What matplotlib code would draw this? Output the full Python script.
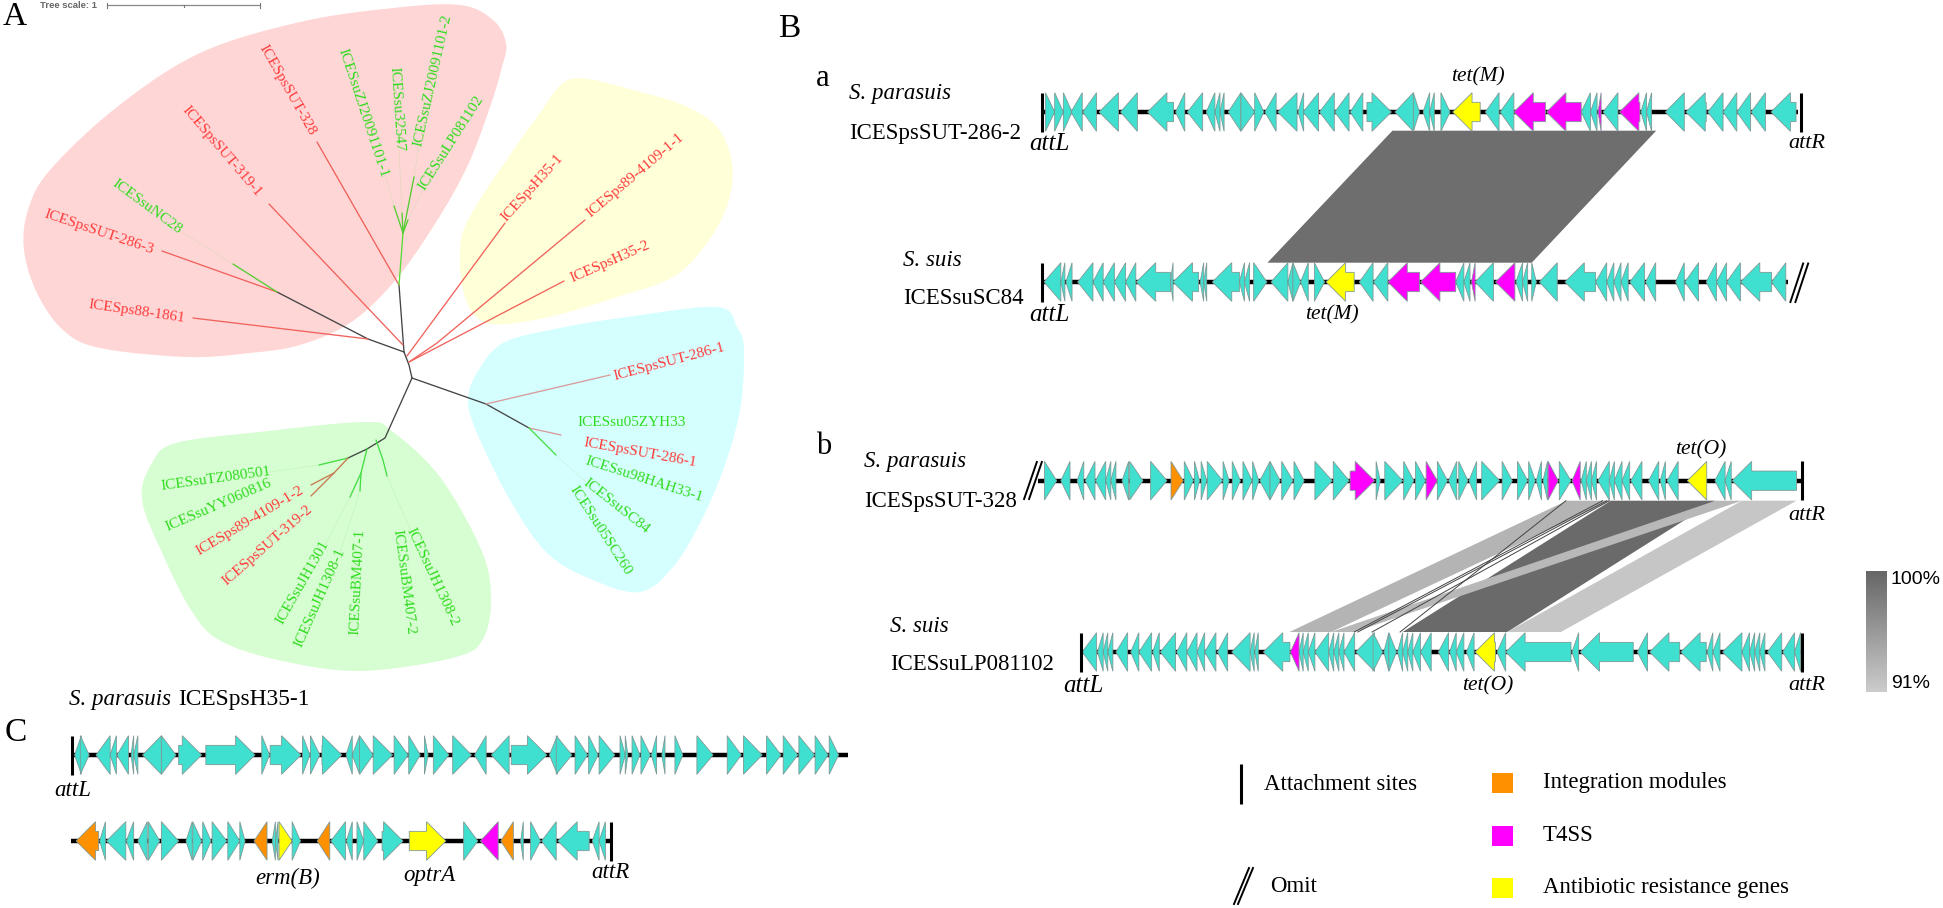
import numpy as np
import matplotlib
matplotlib.use("Agg")
import matplotlib.pyplot as plt
from matplotlib.patches import Polygon, Rectangle

W, H = 1943, 908
SERIF = "Liberation Serif"
SANS = "Liberation Sans"

TEAL = "#40e0d0"
MAG = "#ff00ff"
YEL = "#ffff00"
ORA = "#ff9000"
RED_TXT = "#ff3b3b"
GRN_TXT = "#2fdc1e"

# ---- panel B/C gene maps : (start, end, direction, colour key)
GENE_COL = {"t": TEAL, "m": MAG, "y": YEL, "o": ORA}

a_top = [(50,68,"R"),(68,85,"R"),(85,102,"R"),(100,122,"L"),(123,150,"L"),(155,193,"L"),(197,230,"L"),
         (250,301,"L"),(305,323,"L"),(328,358,"L"),(365,382,"L"),(382,392,"L"),(392,400,"L"),(408,433,"L"),
         (433,460,"R"),(460,478,"R"),(480,502,"L"),(505,543,"L"),(545,556,"L"),(555,585,"L"),(587,616,"L"),
         (617,645,"L"),(647,672,"L"),(680,728,"R"),(735,771,"L"),(771,783,"R"),(790,803,"L"),(803,812,"L"),
         (825,843,"R"),(848,902,"L","y"),(912,939,"L"),(941,968,"L"),(968,1030,"L","m"),(1032,1100,"L","m"),
         (1100,1118,"L"),(1118,1131,"L"),(1133,1139,"L","m"),(1143,1172,"L"),(1175,1215,"L","m"),(1217,1228,"L"),
         (1228,1238,"L"),(1265,1302,"L"),(1305,1345,"L"),(1348,1378,"L"),(1378,1405,"L"),(1405,1432,"L"),
         (1433,1461,"L"),(1472,1521,"L")]

a_bot = [(47,80,"L"),(80,88,"L"),(90,102,"L"),(113,143,"L"),(143,163,"L"),(163,185,"L"),(185,207,"L"),(207,227,"L"),
         (228,295,"L"),(295,300,"L"),(300,350,"L"),(353,360,"L"),(360,366,"L"),(377,430,"L"),(430,440,"L"),(440,450,"L"),
         (458,484,"R"),(492,525,"L"),(525,535,"L"),(535,550,"R"),(550,565,"L"),(577,597,"R"),(600,655,"L","y"),
         (665,692,"L"),(693,721,"L"),(721,783,"L","m"),(785,854,"L","m"),(854,870,"L"),(870,882,"L"),(885,892,"L","m"),
         (892,928,"L"),(932,970,"L","m"),(972,985,"L"),(985,995,"L"),(1003,1012,"R"),(1018,1053,"L"),(1068,1128,"L"),
         (1128,1150,"L"),(1150,1164,"L"),(1164,1178,"L"),(1178,1192,"L"),(1195,1224,"L"),(1226,1246,"L"),(1285,1302,"L"),
         (1303,1330,"L"),(1345,1365,"L"),(1365,1385,"L"),(1385,1412,"L"),(1412,1473,"L"),(1473,1501,"L")]

b_top = [(48,72,"R"),(80,98,"L"),(112,125,"L"),(128,147,"L"),(148,168,"L"),(168,178,"L"),(178,188,"L"),(200,213,"L"),
         (215,241,"R"),(256,288,"R"),(296,320,"R","o"),(322,340,"R"),(342,352,"R"),(355,366,"R"),(367,397,"R"),(398,410,"R"),
         (416,432,"R"),(437,455,"R"),(456,468,"R"),(470,490,"L"),(490,510,"R"),(513,535,"R"),(537,557,"R"),(578,612,"R"),
         (614,645,"R"),(647,695,"R","m"),(698,706,"R"),(715,750,"R"),(752,772,"R"),(775,795,"R"),(796,818,"R","m"),(818,838,"R"),
         (840,856,"L"),(860,878,"R"),(880,895,"L"),(905,940,"R"),(945,965,"R"),(975,995,"R"),(997,1010,"R"),(1012,1022,"L"),
         (1025,1034,"L"),(1035,1055,"R","m"),(1057,1080,"R"),(1082,1098,"L","m"),(1100,1110,"L"),(1110,1120,"L"),(1120,1130,"L"),
         (1133,1155,"L"),(1155,1165,"L"),(1165,1180,"L"),(1180,1195,"L"),(1197,1219,"L"),(1232,1252,"L"),(1255,1265,"L"),
         (1268,1290,"L"),(1308,1346,"L","y"),(1362,1382,"L"),(1382,1394,"L"),(1396,1522,"L")]

b_bot = [(122,150,"L"),(152,163,"L"),(163,172,"L"),(172,182,"L"),(188,211,"L"),(217,233,"L"),(233,258,"L"),(260,273,"L"),
         (275,305,"L"),(307,327,"L"),(327,347,"L"),(347,362,"L"),(362,384,"L"),(387,407,"L"),(415,451,"L"),(451,459,"L"),
         (460,467,"L"),(477,529,"L"),(530,547,"L","m"),(547,555,"L"),(555,565,"L"),(565,578,"L"),(578,605,"L"),(605,615,"L"),
         (615,625,"L"),(625,635,"L"),(635,656,"L"),(658,695,"L"),(692,711,"R"),(713,723,"L"),(723,738,"R"),(740,750,"L"),
         (750,760,"L"),(760,770,"L"),(770,785,"L"),(785,806,"L"),(820,840,"L"),(842,855,"L"),(855,870,"L"),(875,890,"L"),
         (892,932,"L","y"),(935,952,"L"),(952,1080,"L"),(1082,1095,"L"),(1098,1202,"L"),(1210,1230,"L"),(1234,1293,"L"),
         (1295,1345,"L"),(1347,1358,"L"),(1358,1372,"L"),(1377,1415,"L"),(1415,1430,"L"),(1430,1440,"L"),(1440,1450,"L"),
         (1450,1460,"L"),(1465,1493,"L"),(1495,1518,"L"),(1518,1530,"L")]

c_top = [(47,60,"L"),(58,75,"R"),(88,115,"L"),(115,127,"L"),(128,150,"L"),(155,160,"L"),(160,168,"L"),(177,213,"L"),(213,241,"R"),
         (246,290,"R"),(298,392,"R"),(405,420,"R"),(421,480,"R"),(483,497,"R"),(498,516,"R"),(520,558,"R"),(566,578,"L"),
         (578,592,"L"),(592,618,"R"),(618,655,"R"),(658,685,"R"),(686,708,"R"),(716,723,"R"),(733,763,"R"),(770,806,"R"),
         (812,834,"L"),(844,878,"L"),(882,950,"R"),(955,970,"L"),(968,998,"R"),(1004,1028,"R"),(1030,1048,"R"),(1050,1080,"R"),
         (1090,1100,"R"),(1100,1105,"R"),(1113,1128,"R"),(1130,1148,"R"),(1150,1160,"L"),(1170,1176,"L"),(1195,1210,"R"),
         (1237,1268,"R"),(1295,1322,"R"),(1326,1362,"R"),(1370,1398,"R"),(1402,1430,"R"),(1432,1462,"R"),(1463,1488,"R"),
         (1490,1508,"R")]

c_bot = [(50,93,"L","o"),(95,106,"L"),(108,145,"L"),(146,160,"L"),(168,186,"L"),(188,210,"R"),(213,246,"R"),(260,272,"L"),
         (273,290,"R"),(292,308,"R"),(310,338,"R"),(340,363,"R"),(363,373,"R"),(390,415,"L","o"),(425,431,"L"),(431,436,"L"),
         (438,463,"R","y"),(463,479,"R"),(511,535,"L","o"),(537,565,"L"),(567,578,"L"),(587,600,"R"),(600,627,"R"),(635,675,"R"),
         (687,757,"R","y"),(791,818,"R"),(823,857,"L","m"),(862,886,"L","o"),(900,905,"L"),(919,938,"R"),(940,968,"L"),
         (971,1031,"L"),(1037,1050,"L"),(1050,1062,"L")]

# ---- panel A tree labels
labels_red = ["ICESpsSUT-328", "ICESpsSUT-319-1", "ICESpsSUT-286-3", "ICESps88-1861", "ICESpsH35-1",
              "ICESps89-4109-1-1", "ICESpsH35-2", "ICESpsSUT-286-1", "ICESpsSUT-286-1", "ICESps89-4109-1-2",
              "ICESpsSUT-319-2"]
ends_red = [((263,47),(312,133)), ((186,109),(258,193)), ((47,215),(151,250)), ((92,305),(181,318)), ((505,218),(560,157)),
            ((590,213),(680,137)), ((572,278),(647,245)), ((617,376),(722,348)), ((588,443),(693,462)), ((199,551),(301,490)),
            ((224,583),(310,508))]
labels_green = ["ICESsuZJ20091101-1", "ICESsu32547", "ICESsuZJ20091101-2", "ICESsuLP081102", "ICESsuNC28",
                "ICESsuTZ080501", "ICESsuYY060816", "ICESsuJH1301", "ICESsuJH1308-1", "ICESsuBM407-1", "ICESsuBM407-2",
                "ICESsuJH1308-2", "ICESsu05ZYH33", "ICESsu98HAH33-1", "ICESsuSC84", "ICESsu05SC260"]
ends_green = [((343,52),(383,173)), ((394,70),(399,148)), ((419,143),(447,18)), ((423,187),(480,98)), ((115,183),(179,230)),
              ((165,486),(267,472)), ((168,527),(270,483)), ((280,622),(325,543)), ((299,644),(340,552)), ((355,631),(360,533)),
              ((397,533),(410,632)), ((411,531),(454,623)), ((582,423),(682,423)), ((589,462),(698,497)), ((586,482),(647,530)),
              ((574,490),(627,572))]

# tree branches, colour then vertices
BLK = "#444444"
LR = "#f0625c"
tree_lines = [
    (BLK, [(404,352),(368,339),(277,292)]),
    (BLK, [(404,352),(399,285)]),
    (BLK, [(404,352),(409,365),(412,378)]),
    (BLK, [(412,378),(385,438),(367,449),(348,458)]),
    (BLK, [(412,378),(486,404),(529,428)]),
    (LR, [(193,318),(368,339)]),
    (LR, [(162,251),(277,292)]),
    (LR, [(317,142),(399,285)]),
    (LR, [(269,204),(403,345)]),
    (LR, [(407,356),(505,223)]),
    (LR, [(409,362),(437,343),(585,220)]),
    (LR, [(409,362),(564,281)]),
    ("#55cc33", [(233,264),(277,292)]),
    ("#55dd33", [(399,285),(403,233)]),
    ("#55cc33", [(403,233),(394,206)]),
    ("#55cc33", [(403,233),(402,213)]),
    ("#55cc33", [(403,233),(414,177)]),
    ("#55cc33", [(403,233),(408,220)]),
    ("#d89a9a", [(486,404),(610,375)]),
    ("#d89a9a", [(529,428),(561,435)]),
    ("#44e044", [(529,428),(556,455)]),
    ("#44dd44", [(348,458),(319,465)]),
    ("#c87850", [(348,458),(334,473),(311,485)]),
    ("#c87850", [(334,473),(311,496)]),
    ("#44dd44", [(367,449),(361,473),(350,497)]),
    ("#44dd44", [(361,473),(360,491)]),
    ("#44dd44", [(376,440),(383,460),(387,476)]),
]

# barely visible leader lines from the branch tips to the labels
faint_lines = [((233,264),(182,232)), ((394,206),(385,175)), ((402,213),(399,150)), ((414,177),(419,145)), ((408,220),(424,187)),
               ((319,465),(270,472)), ((350,497),(325,545)), ((360,491),(340,552)), ((387,476),(411,531)), ((556,455),(586,482))]

# shaded clades
pink_hull = [(460,5),(493,20),(506,43),(502,67),(490,107),(467,167),(433,227),(393,283),(350,323),(300,345),(250,353),
             (187,357),(100,348),(63,330),(37,293),(24,250),(28,210),(50,170),(117,107),(200,53),(300,22),(393,8)]
yellow_hull = [(563,83),(587,79),(633,90),(683,105),(717,127),(732,163),(728,203),(707,243),(673,277),(617,297),(557,315),
               (507,324),(480,320),(465,297),(460,257),(468,220),(510,155),(540,113)]
cyan_hull = [(717,307),(737,327),(744,350),(740,410),(723,470),(700,523),(673,567),(640,592),(593,580),(547,553),(510,500),
             (477,433),(468,400),(477,373),(503,343),(560,328),(627,317)]
green_hull = [(365,422),(393,432),(440,477),(480,547),(491,593),(484,637),(456,657),(361,671),(278,660),(219,640),(191,610),
              (164,557),(142,500),(152,463),(176,443),(259,432)]

# homology ribbons
ribbon_a = [(730,130.7),(1247,130.7),(1003,262.7),(485,262.7)]
rib_b_light = [(1072,500.7),(1158,500.7),(610,632),(528,632)]
rib_b_dark = [(1158,500.7),(1363,500.7),(955,632),(750,632)]
rib_b_mid = [(1363,500.7),(1415,500.7),(655,632),(610,632)]
rib_b_pale = [(1415,500.7),(1522,500.7),(1060,632),(955,632)]
rib_b_thin = [((1150,500.7),(662,632)), ((1155,500.7),(690,632)), ((1142,500.7),(655,632)), ((1070,500.7),(745,632))]

ZB = 800 / 1568   # zoom factor of tracks in panel B
ZC = 820 / 1568


def bx(z):
    return 1020 + z * ZB


def cx(z):
    return 50 + z * ZC


def smooth(pts, n=14):
    # closed catmull-rom through the hull points
    p = np.array(pts, dtype=float)
    out = []
    for i in range(len(p)):
        p0, p1, p2, p3 = p[i - 1], p[i], p[(i + 1) % len(p)], p[(i + 2) % len(p)]
        for t in np.linspace(0, 1, n, endpoint=False):
            out.append(0.5 * (2 * p1 + (p2 - p0) * t + (2 * p0 - 5 * p1 + 4 * p2 - p3) * t ** 2
                              + (3 * p1 - p0 - 3 * p2 + p3) * t ** 3))
    return np.array(out)


def gene(ax, x0, x1, yc, d, col, half=19.3, head=19.4):
    L = x1 - x0
    hd = min(L, head)
    t = half * 0.5
    if d == "L":
        pts = [(x0, yc), (x0 + hd, yc - half), (x0 + hd, yc - t), (x1, yc - t), (x1, yc + t), (x0 + hd, yc + t), (x0 + hd, yc + half)]
    else:
        pts = [(x1, yc), (x1 - hd, yc - half), (x1 - hd, yc - t), (x0, yc - t), (x0, yc + t), (x1 - hd, yc + t), (x1 - hd, yc + half)]
    ax.add_patch(Polygon(pts, closed=True, fc=col, ec="#7f9a96", lw=0.6, zorder=4))


def track(ax, genes, yc, conv, xa, xb):
    ax.plot([conv(xa), conv(xb)], [yc, yc], color="black", lw=3.2, solid_capstyle="butt", zorder=3)
    for g in genes:
        col = GENE_COL[g[3]] if len(g) > 3 else TEAL
        gene(ax, conv(g[0]), conv(g[1]), yc, g[2], col)


def bar(ax, x, yc, half=19.5):
    ax.plot([x, x], [yc - half, yc + half], color="black", lw=2.2, solid_capstyle="butt", zorder=5)


def omit(ax, x0, x1, y0, y1, gap):
    for dx in (0, gap):
        ax.plot([x0 + dx, x1 + dx], [y0, y1], color="black", lw=1.4, zorder=5)


def label_between(ax, txt, p, q, col):
    cxx, cyy = (p[0] + q[0]) / 2, (p[1] + q[1]) / 2
    ang = np.degrees(np.arctan2(-(q[1] - p[1]), q[0] - p[0]))
    ax.text(cxx, cyy, txt, color=col, family=SERIF, fontsize=11, rotation=ang, rotation_mode="anchor",
            ha="center", va="center", zorder=6)


def txt(ax, x, y, s, size=16.5, style="normal", ha="left", color="black", family=SERIF, weight="normal"):
    ax.text(x, y, s, fontsize=size, style=style, ha=ha, va="center", color=color, family=family, weight=weight, zorder=7)


fig = plt.figure(figsize=(W / 100, H / 100), dpi=100)
ax = fig.add_axes([0, 0, 1, 1])
ax.set_xlim(0, W)
ax.set_ylim(H, 0)
ax.axis("off")

# Panel A
for hull, col in [(pink_hull, "#ffd6d6"), (yellow_hull, "#ffffd8"), (cyan_hull, "#d5ffff"), (green_hull, "#d7fdd2")]:
    ax.add_patch(Polygon(smooth(hull), closed=True, fc=col, ec="none", zorder=1))

for p, q in faint_lines:
    ax.plot([p[0], q[0]], [p[1], q[1]], color="#88dd77", lw=0.4, alpha=0.3, zorder=2)

for col, verts in tree_lines:
    xs, ys = zip(*verts)
    ax.plot(xs, ys, color=col, lw=0.95, zorder=2, solid_capstyle="round")

for name, (p, q) in zip(labels_red, ends_red):
    label_between(ax, name, p, q, RED_TXT)
for name, (p, q) in zip(labels_green, ends_green):
    label_between(ax, name, p, q, GRN_TXT)

# tree scale
txt(ax, 40, 5, "Tree scale: 1", size=6.8, color="#666666", family=SANS, weight="bold")
ax.plot([107, 260], [5, 5], color="#888888", lw=0.9)
for xt in (107, 183.5, 260):
    ax.plot([xt, xt], [2.5, 7.5] if xt != 183.5 else [5, 6.5], color="#777777", lw=0.8)

txt(ax, 3, 17, "A", size=24)
txt(ax, 778, 29, "B", size=24)
txt(ax, 5, 733, "C", size=24)
txt(ax, 816, 79, "a", size=22)
txt(ax, 816, 447, "b", size=22)

# Panel B, a
YA1, YA2, YB1, YB2 = 112, 282, 480.7, 652
ax.add_patch(Polygon([(bx(x), y) for x, y in ribbon_a], closed=True, fc="#6e6e6e", ec="none", zorder=2))
track(ax, a_top, YA1, bx, 44, 1525)
track(ax, a_bot, YA2, bx, 47, 1505)
bar(ax, bx(44), YA1)
bar(ax, bx(1530), YA1)
bar(ax, bx(44), YA2)
omit(ax, bx(1510), bx(1535), 302, 263.5, 5)

txt(ax, 849, 94, "S. parasuis", style="italic")
txt(ax, 849, 133, "ICESpsSUT-286-2")
txt(ax, 903, 260, "S. suis", style="italic")
txt(ax, 903, 299, "ICESsuSC84")
txt(ax, 1029, 144, "attL", style="italic", size=18)
txt(ax, 1788, 143, "attR", style="italic", size=16)
txt(ax, 1029, 315, "attL", style="italic", size=18)
txt(ax, 1478, 77, "tet(M)", style="italic", size=15.5, ha="center")
txt(ax, 1332, 315, "tet(M)", style="italic", size=15.5, ha="center")

# Panel B, b
for poly, col in [(rib_b_light, "#b4b4b4"), (rib_b_dark, "#6a6a6a"), (rib_b_mid, "#b8b8b8"), (rib_b_pale, "#c6c6c6")]:
    ax.add_patch(Polygon([(bx(x), y) for x, y in poly], closed=True, fc=col, ec="none", zorder=2))
for p, q in rib_b_thin:
    ax.plot([bx(p[0]), bx(q[0])], [p[1], q[1]], color="#444444", lw=0.7, zorder=2)
track(ax, b_top, YB1, bx, 35, 1535)
track(ax, b_bot, YB2, bx, 122, 1532)
omit(ax, bx(8), bx(33), 499, 462, 5)
bar(ax, bx(1532), YB1)
bar(ax, bx(119), YB2)
bar(ax, bx(1532), YB2)

txt(ax, 864, 462, "S. parasuis", style="italic")
txt(ax, 864, 502, "ICESpsSUT-328")
txt(ax, 890, 626, "S. suis", style="italic")
txt(ax, 890, 665, "ICESsuLP081102")
txt(ax, 1063, 686, "attL", style="italic", size=18)
txt(ax, 1788, 515, "attR", style="italic", size=16)
txt(ax, 1788, 685, "attR", style="italic", size=16)
txt(ax, 1701, 450, "tet(O)", style="italic", size=15.5, ha="center")
txt(ax, 1488, 686, "tet(O)", style="italic", size=15.5, ha="center")

# identity scale
grad = np.linspace(0.40, 0.80, 256).reshape(-1, 1)
ax.imshow(grad, extent=(1866, 1887, 692, 571), cmap="gray", vmin=0, vmax=1, aspect="auto", zorder=3)
ax.set_xlim(0, W)
ax.set_ylim(H, 0)
txt(ax, 1891, 579, "100%", size=14, family=SANS)
txt(ax, 1891, 683, "91%", size=14, family=SANS)

# Panel C
YC1, YC2 = 755, 841
track(ax, c_top, YC1, cx, 42, 1525)
track(ax, c_bot, YC2, cx, 40, 1075)
bar(ax, cx(42), YC1)
bar(ax, cx(1073), YC2)
txt(ax, 69, 700, "S. parasuis", style="italic")
txt(ax, 178, 700, "ICESpsH35-1", size=16.8)
txt(ax, 54, 791, "attL", style="italic")
txt(ax, 288, 878, "erm(B)", style="italic", ha="center")
txt(ax, 429, 875, "optrA", style="italic", ha="center")
txt(ax, 591, 873, "attR", style="italic")

# legend
ax.plot([1241, 1241], [764, 804], color="black", lw=2.2, solid_capstyle="butt")
txt(ax, 1264, 784, "Attachment sites")
omit(ax, 1234, 1249, 904, 868, 4)
txt(ax, 1270, 886, "Omit")
for yb, col, name in [(773, ORA, "Integration modules"), (826, MAG, "T4SS"), (878, YEL, "Antibiotic resistance genes")]:
    ax.add_patch(Rectangle((1492, yb), 21, 20, fc=col, ec="none"))
    txt(ax, 1543, yb + 9.5, name)

fig.savefig("out.png", dpi=100)
